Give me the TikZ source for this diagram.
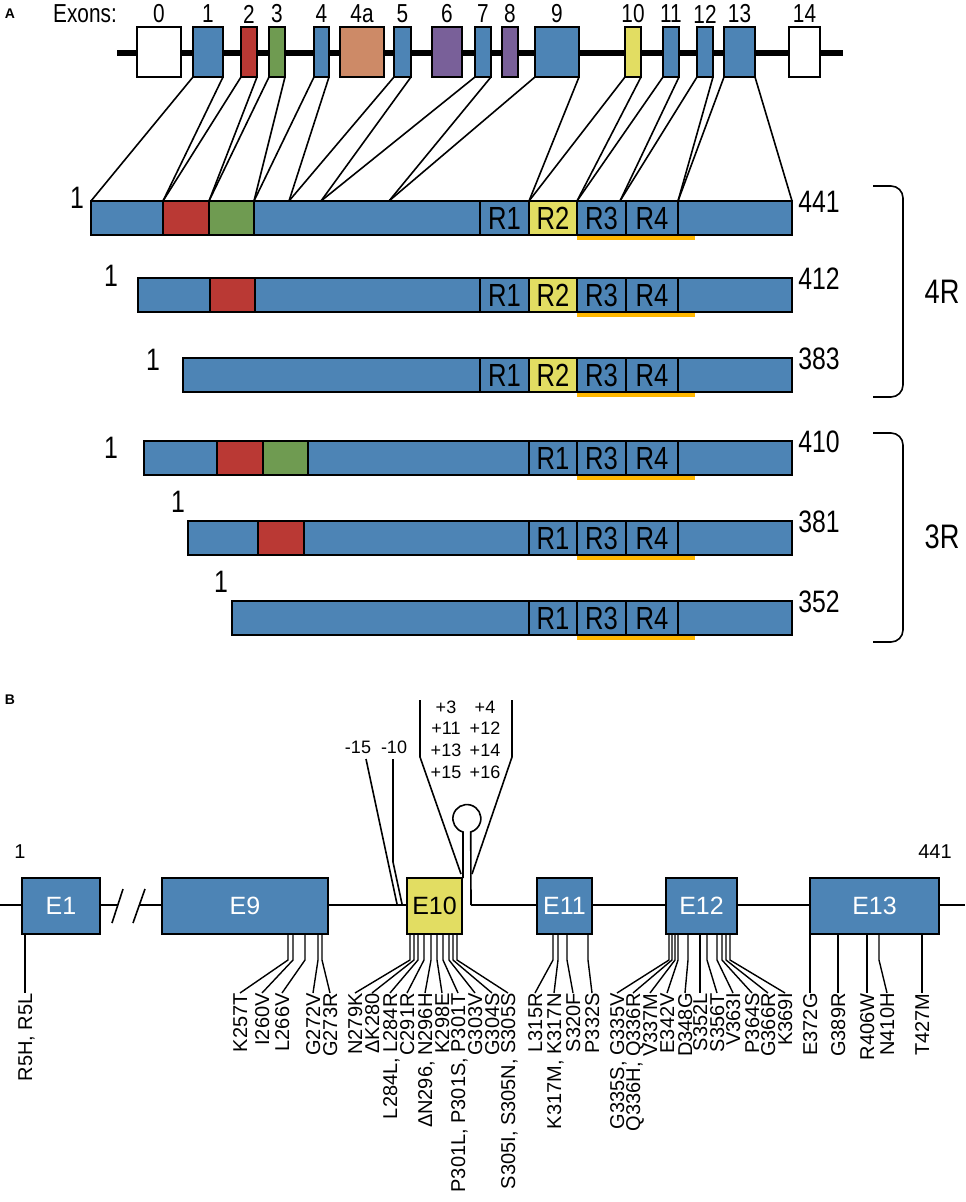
\documentclass[tikz,border=0pt]{standalone}
\usepackage{fontspec}
\setmainfont{Liberation Sans}
\newfontfamily\narrowfont[FakeStretch=0.8]{Liberation Sans}
\usepackage{tikz}
\usepackage{xcolor}
\usetikzlibrary{positioning}
\definecolor{taublue}{RGB}{77,132,181}
\definecolor{exred}{RGB}{186,57,52}
\definecolor{exgreen}{RGB}{111,155,81}
\definecolor{exorange}{RGB}{205,138,103}
\definecolor{expurple}{RGB}{121,96,153}
\definecolor{exyellow}{RGB}{226,221,98}
\definecolor{mtbr}{RGB}{255,183,0}
\tikzstyle{box} = [
    draw=black,
    line width=1pt,
    fill=taublue
]
\tikzstyle{link} = [
    line width=0.8pt,
    draw=black
]
\tikzstyle{mutline} = [
    line width=0.7pt,
    draw=black
]
\tikzstyle{mtbrline} = [
    line width=2pt,
    draw=mtbr
]
\tikzstyle{mut} = [
    rotate=90,
    anchor=east,
    inner sep=0pt,
    text height=7.2pt,
    text depth=0pt,
    font=\fontsize{10}{10}\selectfont
]
\tikzstyle{exnum} = [font=\narrowfont\fontsize{13}{13}\selectfont, inner sep=0pt]
\tikzstyle{rlab} = [font=\narrowfont\fontsize{16}{16}\selectfont, inner sep=0pt]
\tikzstyle{endlab} = [font=\narrowfont\fontsize{15.5}{15.5}\selectfont, inner sep=0pt]
\tikzstyle{elab} = [font=\fontsize{12.5}{12.5}\selectfont, inner sep=0pt, text=white]
\tikzstyle{small} = [font=\fontsize{9}{9}\selectfont, inner sep=0pt]
\tikzstyle{panel} = [font=\fontsize{7}{7}\selectfont\bfseries, inner sep=0pt]

\begin{document}
\begin{tikzpicture}[x=0.5pt,y=-0.5pt]
    \useasboundingbox (0,0) rectangle (965,1202);

    % Panel A: exons of the gene
    \node[panel] (A) at (10,14) {A};
    \node[exnum] (exons) at (85,14) {Exons:};
    \draw[line width=3pt] (117,53) -- (843,53);
    \foreach \n/\a/\b/\c in {0/137/181/white, 1/193/223/taublue, 2/241/257/exred,
        3/269/285/exgreen, 4/314/329/taublue, 4a/340/384/exorange, 5/394/411/taublue,
        6/432/462/expurple, 7/475/491/taublue, 8/502/518/expurple, 9/535/579/taublue,
        10/625/641/exyellow, 11/663/679/taublue, 12/697/713/taublue, 13/724/755/taublue,
        14/789/820/white} {
        \draw[box, fill=\c] (\a,27) rectangle (\b,77);
        \coordinate (e\n-l) at (\a,77);
        \coordinate (e\n-r) at (\b,77);
        \node[exnum] (x\n) at ({(\a+\b)/2},14) {\n};
    }

    % Exons onto the longest isoform
    \foreach \i/\x in {0/91, 1/163, 2/209, 3/254, 4/289, 5/321, 6/389, 7/529, 8/577, 9/620, 10/678, 11/792}
        \coordinate (s\i) at (\x,201);
    \foreach \e/\s in {e1-l/s0, e1-r/s1, e2-l/s1, e2-r/s2, e3-l/s2, e3-r/s3, e4-l/s3, e4-r/s4,
        e5-l/s4, e5-r/s5, e7-l/s5, e7-r/s6, e9-l/s6, e9-r/s7, e10-l/s7, e10-r/s8,
        e11-l/s8, e11-r/s9, e12-l/s9, e12-r/s10, e13-l/s10, e13-r/s11}
        \draw[link] (\e) -- (\s);

    % Isoform bars
    \foreach \t/\xs in {201/91, 278/138, 358/183, 441/144, 521/188, 601/232}
        \draw[box] (\xs,\t) rectangle (792,{\t+34});
    \draw[box, fill=exred] (163,201) rectangle (209,235);
    \draw[box, fill=exgreen] (209,201) rectangle (254,235);
    \draw[box, fill=exred] (210,278) rectangle (255,312);
    \draw[box, fill=exred] (217,441) rectangle (263,475);
    \draw[box, fill=exgreen] (263,441) rectangle (308,475);
    \draw[box, fill=exred] (258,521) rectangle (304,555);

    % Repeats, 4R
    \foreach \t in {201, 278, 358} {
        \foreach \r/\a/\b/\c in {R1/480/529/taublue, R2/529/577/exyellow, R3/577/626/taublue, R4/626/678/taublue}
            \draw[box, fill=\c] (\a,\t) rectangle node[rlab] (\r-\t) {\r} (\b,{\t+34});
        \draw[mtbrline] (577,{\t+37}) -- (695,{\t+37});
    }
    % Repeats, 3R
    \foreach \t in {441, 521, 601} {
        \foreach \r/\a/\b in {R1/529/577, R3/577/626, R4/626/678}
            \draw[box] (\a,\t) rectangle node[rlab] (\r-\t) {\r} (\b,{\t+34});
        \draw[mtbrline] (577,{\t+37}) -- (695,{\t+37});
    }

    % Ends
    \foreach \i/\x/\y in {1/77/198, 2/111/276, 3/153/360, 4/111/448, 5/178/502, 6/221/582}
        \node[endlab] (n\i) at (\x,\y) {1};
    \foreach \i/\t/\len in {1/201/441, 2/278/412, 3/358/383, 4/441/410, 5/521/381, 6/601/352}
        \node[endlab, anchor=west] (c\i) at (798,{\t+1}) {\len};

    % Brackets
    \draw[link, rounded corners=6pt] (873,186) -- (903,186) -- (903,397) -- (873,397);
    \draw[link, rounded corners=6pt] (873,433) -- (903,433) -- (903,642) -- (873,642);
    \node[endlab, font=\narrowfont\fontsize{17}{17}\selectfont] (four) at (942,292) {4R};
    \node[endlab, font=\narrowfont\fontsize{17}{17}\selectfont] (three) at (942,537) {3R};

    % Panel B: mutations
    \node[panel] (B) at (10,700) {B};
    \node[small, font=\fontsize{10}{10}\selectfont] (first) at (20,852) {1};
    \node[small, font=\fontsize{10}{10}\selectfont] (last) at (935,852) {441};
    \draw[link] (0,905) -- (118,905);
    \draw[link] (139,905) -- (407,905);
    \draw[link] (471,905) -- (965,905);
    \draw[link] (112,923) -- (123,889);
    \draw[link] (133,923) -- (145,889);
    \foreach \n/\a/\b in {E1/22/100, E9/162/328, E11/537/592, E12/666/737, E13/810/939}
        \draw[box, line width=1.2pt] (\a,878) rectangle node[elab] (\n) {\n} (\b,934);
    \draw[box, line width=1.2pt, fill=exyellow] (407,878) rectangle node[elab, text=black] (E10) {E10} (462,934);

    % Stem loop and intronic sites
    \draw[link] (463,878) -- (463,832) arc[start angle=106, end angle=434, radius=14] -- (471,905);
    \draw[link] (420,700) -- (420,757) -- (461,874);
    \draw[link] (512,700) -- (512,757) -- (472,874);
    \foreach \i/\t/\x/\y in {1/+3/446/707, 2/+4/485/707, 3/+11/446/728, 4/+12/485/728,
        5/+13/446/750, 6/+14/485/750, 7/+15/446/772, 8/+16/485/772, 9/-15/358/747, 10/-10/394/747}
        \node[small] (i\i) at (\x,\y) {\t};
    \draw[link] (366,759) -- (397,904);
    \draw[link] (393,759) -- (393,862) -- (402,904);

    % Missense and deletion sites
    \foreach \i/\bx/\lx/\t in {1/25/25/{R5H, R5L}, 2/288/240/K257T, 3/293/262/I260V, 4/305/282/L266V,
        5/318/313/G272V, 6/322/330/G273R, 7/410/355/N279K, 8/414/372/ΔK280,
        9/418/390/{L284L, L284R}, 10/424/407/C291R, 11/431/425/{ΔN296, N296H}, 12/437/442/K298E,
        13/443/458/{P301L, P301S, P301T}, 14/449/475/G303V, 15/453/492/G304S,
        16/457/508/{S305I, S305N, S305S}, 17/553/535/L315R, 18/558/554/{K317M, K317N},
        19/567/573/S320F, 20/588/592/P332S, 21/669/617/{G335S, G335V}, 22/672/633/{Q336H, Q336R},
        23/675/650/V337M, 24/678/667/E342V, 25/688/685/D348G, 26/700/700/S352L, 27/707/717/S356T,
        28/717/733/V363I, 29/722/752/P364S, 30/726/768/G366R, 31/730/785/K369I,
        32/810/810/E372G, 33/838/838/G389R, 34/867/867/R406W, 35/879/887/N410H, 36/922/922/T427M} {
        \node[mut] (m\i) at (\lx,993) {\t};
        \draw[mutline] (\bx,934) -- (\bx,960) -- (m\i.east);
    }
\end{tikzpicture}
\end{document}
